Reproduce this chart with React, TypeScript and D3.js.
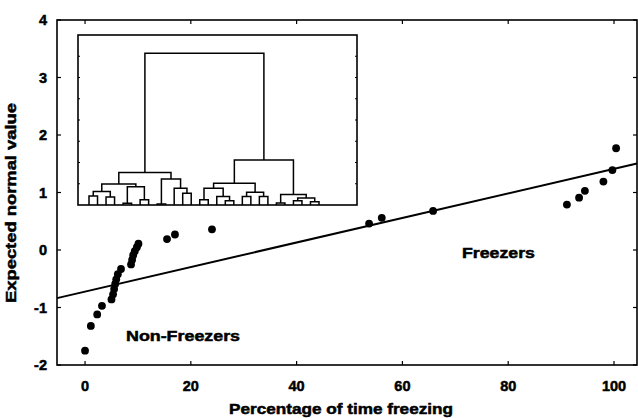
import React from "react";
import * as d3 from "d3";

// ---- Data ----
const pctFreezing = [
  0, 1.1, 2.3, 3.2,
  5.0, 5.3, 5.5, 5.7, 5.9, 6.2, 6.8,
  8.7, 8.9, 9.1, 9.4, 9.8, 10.1,
  15.5, 17.0, 24.0, 53.7, 56.1, 65.8,
  91.1, 93.4, 94.5, 98.0, 99.7, 100.4,
];
const expectedNormal = [
  -1.75, -1.32, -1.12, -0.97,
  -0.86, -0.77, -0.68, -0.59, -0.51, -0.42, -0.33,
  -0.25, -0.17, -0.09, -0.02, 0.05, 0.11,
  0.19, 0.27, 0.36, 0.46, 0.56, 0.68,
  0.79, 0.91, 1.03, 1.19, 1.39, 1.77,
];
const fitIntercept = -0.724;
const fitSlope = 0.02136;

const xTicks = [0, 20, 40, 60, 80, 100];
const yTicks = [-2, -1, 0, 1, 2, 3, 4];

// dendrogram linkage: [childA, childB, height]; ids >= nLeaves refer to earlier merges
const nLeaves = 28;
const linkage: [number, number, number][] = [
  [0, 1, 0.42], [2, 3, 0.38], [28, 29, 0.63], [4, 5, 0.08], [6, 7, 0.25],
  [31, 32, 0.86], [30, 33, 0.99], [8, 9, 0.05], [11, 12, 0.55], [10, 36, 0.79],
  [35, 37, 1.22], [34, 38, 1.53], [13, 14, 0.25], [16, 17, 0.2], [15, 41, 0.4],
  [40, 42, 0.79], [18, 19, 0.4], [20, 21, 0.4], [44, 45, 0.6], [43, 46, 1.02],
  [22, 23, 0.1], [24, 25, 0.2], [26, 27, 0.15], [49, 50, 0.33], [48, 51, 0.5],
  [47, 52, 2.12], [39, 53, 7.14],
];
const insetTicks = [1, 2, 3, 4, 5, 6, 7];

const FONT = "'Liberation Sans', Arial, Helvetica, sans-serif";

export default function App() {
  const W = 638, H = 418;
  const left = 57, right = 637, top = 20, bottom = 365;
  const x = d3.scaleLinear().domain([-5.3, 104.35]).range([left, right]);
  const y = d3.scaleLinear().domain([-2, 4]).range([bottom, top]);

  // inset
  const iL = 78, iR = 357, iT = 35, iB = 205;
  const lx = d3.scaleLinear().domain([0, nLeaves - 1]).range([89, 319]);
  const hy = d3.scaleLinear().domain([0, 8]).range([iB, iT]);

  const pos: { x: number; h: number }[] = [];
  for (let i = 0; i < nLeaves; i++) pos.push({ x: lx(i), h: 0 });
  const dendroPaths: string[] = [];
  linkage.forEach(([a, b, h]) => {
    const pa = pos[a], pb = pos[b];
    const p = d3.path();
    p.moveTo(pa.x, hy(pa.h));
    p.lineTo(pa.x, hy(h));
    p.lineTo(pb.x, hy(h));
    p.lineTo(pb.x, hy(pb.h));
    dendroPaths.push(p.toString());
    pos.push({ x: (pa.x + pb.x) / 2, h });
  });

  const fitLine = d3.line<number>()
    .x((d) => x(d))
    .y((d) => y(fitIntercept + fitSlope * d));
  const fitXs = [x.domain()[0], x.domain()[1]];

  const tickLen = 4;
  const txt = { fontFamily: FONT, fontWeight: "bold" as const, stroke: "#000", strokeWidth: 0.5 };

  return (
    <svg width={W} height={H} style={{ display: "block", position: "absolute", left: 0, top: 0, background: "#fff" }}>
      <rect x={0} y={0} width={W} height={H} fill="#fff" />
      {/* frame */}
      <rect x={left} y={top} width={right - left} height={bottom - top} fill="none" stroke="#000" strokeWidth={1.6} />
      {/* x ticks */}
      {xTicks.map((t) => (
        <g key={"x" + t}>
          <line x1={x(t)} x2={x(t)} y1={bottom} y2={bottom - tickLen} stroke="#000" strokeWidth={1.2} />
          <line x1={x(t)} x2={x(t)} y1={top} y2={top + tickLen} stroke="#000" strokeWidth={1.2} />
          <text x={x(t)} y={391} textAnchor="middle" fontSize={14.5} {...txt}>{t}</text>
        </g>
      ))}
      {/* y ticks */}
      {yTicks.map((t) => (
        <g key={"y" + t}>
          <line x1={left} x2={left + tickLen} y1={y(t)} y2={y(t)} stroke="#000" strokeWidth={1.2} />
          <line x1={right} x2={right - tickLen} y1={y(t)} y2={y(t)} stroke="#000" strokeWidth={1.2} />
          <text x={47} y={y(t) + 5} textAnchor="end" fontSize={14.5} {...txt}>{t}</text>
        </g>
      ))}
      {/* axis titles */}
      <text x={341} y={414} textAnchor="middle" fontSize={14.5} {...txt}
        textLength={224} lengthAdjust="spacingAndGlyphs">Percentage of time freezing</text>
      <text transform={`translate(16,${203}) rotate(-90)`} textAnchor="middle" fontSize={14.5} {...txt}
        textLength={200} lengthAdjust="spacingAndGlyphs">Expected normal value</text>

      {/* fit line */}
      <path d={fitLine(fitXs) || ""} fill="none" stroke="#000" strokeWidth={2} />

      {/* points */}
      {pctFreezing.map((v, i) => (
        <circle key={"p" + i} cx={x(v)} cy={y(expectedNormal[i])} r={3.9} fill="#000" />
      ))}

      {/* group labels */}
      <text x={126} y={341} fontSize={15} {...txt}
        textLength={114} lengthAdjust="spacingAndGlyphs">Non-Freezers</text>
      <text x={462} y={258} fontSize={15} {...txt}
        textLength={73} lengthAdjust="spacingAndGlyphs">Freezers</text>

      {/* inset dendrogram */}
      <rect x={iL} y={iT} width={iR - iL} height={iB - iT} fill="#fff" stroke="#000" strokeWidth={1.6} />
      {insetTicks.map((t) => (
        <g key={"it" + t}>
          <line x1={iL} x2={iL + 2} y1={hy(t)} y2={hy(t)} stroke="#000" strokeWidth={1} />
          <line x1={iR} x2={iR - 2} y1={hy(t)} y2={hy(t)} stroke="#000" strokeWidth={1} />
        </g>
      ))}
      {dendroPaths.map((d, i) => (
        <path key={"d" + i} d={d} fill="none" stroke="#000" strokeWidth={1.5} />
      ))}
    </svg>
  );
}
